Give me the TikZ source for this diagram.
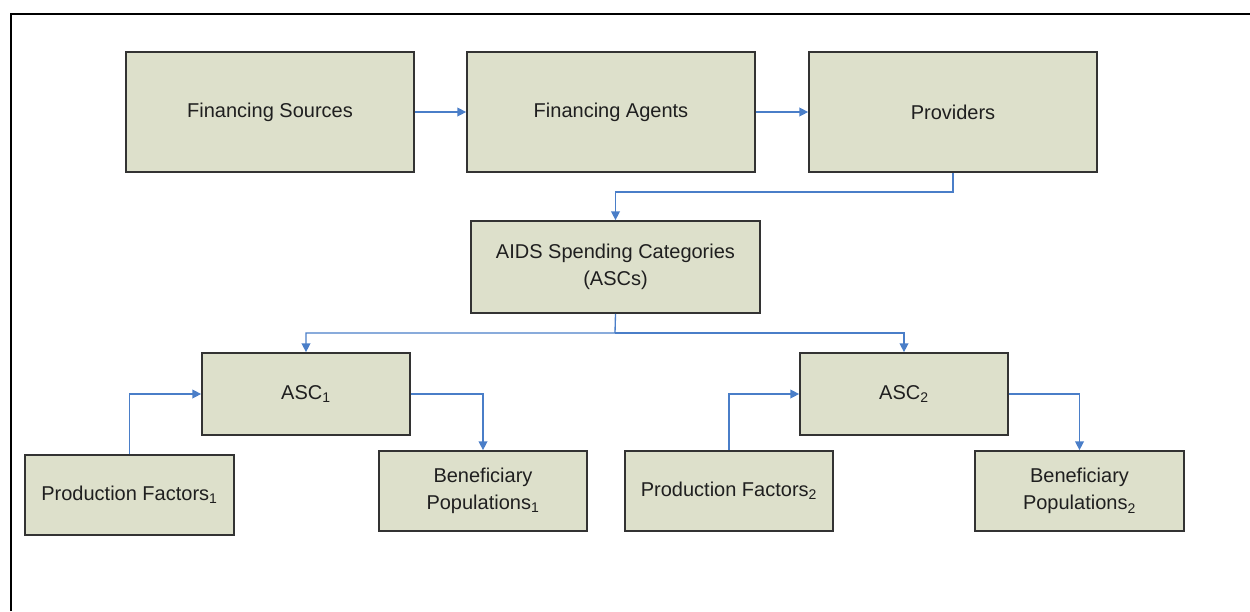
\documentclass[tikz,border=0pt]{standalone}
\usepackage{fontspec}
\setmainfont{Liberation Sans}
\usetikzlibrary{arrows.meta}
\definecolor{boxfill}{HTML}{DDE0CB}
\definecolor{boxdraw}{HTML}{333333}
\definecolor{conn}{HTML}{4A7EC8}
\tikzset{
  stepbox/.style={draw=boxdraw, fill=boxfill, line width=1.3pt, inner sep=0pt, align=center,
    text=black!88, font=\fontsize{15}{20.5}\selectfont},
  conn/.style={draw=conn, line width=1pt, -{Triangle[length=6.5pt,width=6.5pt]}},
}
\begin{document}
\begin{tikzpicture}[x=0.75pt,y=-0.75pt]
\useasboundingbox (0,0) rectangle (1250,611);
\draw[line width=1.4pt, black] (11,611) -- (11,14) -- (1250,14);

\node[stepbox, minimum width={288*0.75pt}, minimum height={120*0.75pt}] (fs) at (270,112) {Financing Sources};
\node[stepbox, minimum width={288*0.75pt}, minimum height={120*0.75pt}] (fa) at (611,112) {Financing Agents};
\node[stepbox, minimum width={288*0.75pt}, minimum height={120*0.75pt}] (pr) at (953,112) {Providers};
\node[stepbox, minimum width={289*0.75pt}, minimum height={92*0.75pt}] (ascs) at (615.5,267) {AIDS Spending Categories\\(ASCs)};
\node[stepbox, minimum width={208*0.75pt}, minimum height={82*0.75pt}] (asc1) at (306,394) {ASC\textsubscript{1}};
\node[stepbox, minimum width={208*0.75pt}, minimum height={82*0.75pt}] (asc2) at (904,394) {ASC\textsubscript{2}};
\node[stepbox, minimum width={209*0.75pt}, minimum height={80*0.75pt}] (pf1) at (129.5,495) {Production Factors\textsubscript{1}};
\node[stepbox, minimum width={208*0.75pt}, minimum height={80*0.75pt}] (bp1) at (483,491) {Beneficiary\\Populations\textsubscript{1}};
\node[stepbox, minimum width={208*0.75pt}, minimum height={80*0.75pt}] (pf2) at (729,491) {Production Factors\textsubscript{2}};
\node[stepbox, minimum width={209*0.75pt}, minimum height={80*0.75pt}] (bp2) at (1079.5,491) {Beneficiary\\Populations\textsubscript{2}};

\coordinate (c1) at (953,192);
\coordinate (c2) at (615,333);

\draw[conn] (fs.east) -- (fa.west);
\draw[conn] (fa.east) -- (pr.west);
\draw[conn] (pr.south) -- (c1) -| (ascs.north);
\draw[conn] (ascs.south) -- (c2) -| (asc1.north);
\draw[conn] (c2) -| (asc2.north);
\draw[conn] (pf1.north) |- (asc1.west);
\draw[conn] (asc1.east) -| (bp1.north);
\draw[conn] (pf2.north) |- (asc2.west);
\draw[conn] (asc2.east) -| (bp2.north);
\end{tikzpicture}
\end{document}
